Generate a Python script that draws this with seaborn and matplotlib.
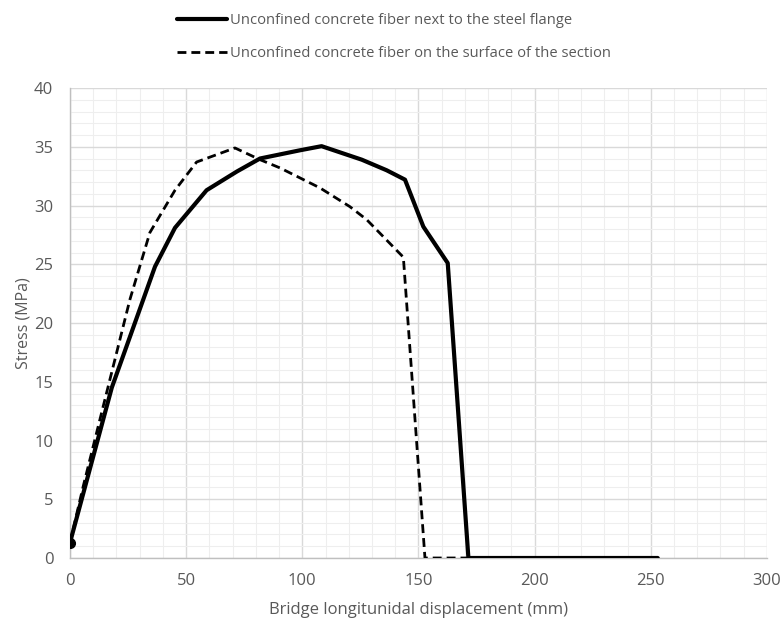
import matplotlib
matplotlib.use("Agg")
import matplotlib.pyplot as plt
from matplotlib.ticker import MultipleLocator
from matplotlib.lines import Line2D
import seaborn as sns
import pandas as pd

# Stress-displacement responses of the two unconfined concrete fibers
disp_flange = [0.0, 18.0, 36.6, 45.2, 58.8, 71.9, 81.8, 99.0, 108.3, 125.6, 136.3, 144.2, 152.1, 162.6, 171.5, 253.0]
stress_flange = [1.3, 14.5, 24.8, 28.1, 31.3, 32.9, 34.0, 34.7, 35.05, 33.9, 33.0, 32.2, 28.2, 25.1, 0.0, 0.0]

disp_surface = [0.0, 5.7, 25.8, 34.4, 45.2, 54.5, 71.0, 81.8, 90.4, 107.6, 120.5, 127.7, 143.5, 152.8, 171.5]
stress_surface = [1.3, 6.1, 22.0, 27.7, 31.3, 33.7, 34.9, 33.9, 33.2, 31.5, 29.9, 28.8, 25.6, 0.0, 0.0]

label_flange = "Unconfined concrete fiber next to the steel flange"
label_surface = "Unconfined concrete fiber on the surface of the section"

x_label = "Bridge longitunidal displacement (mm)"
y_label = "Stress (MPa)"

df_flange = pd.DataFrame({"disp": disp_flange, "stress": stress_flange})
df_surface = pd.DataFrame({"disp": disp_surface, "stress": stress_surface})

sns.set_theme(style="white")
plt.rcParams["font.family"] = ["Open Sans", "DejaVu Sans"]
text_color = "#595959"
axis_color = "#bfbfbf"

fig = plt.figure(figsize=(7.81, 6.22), dpi=100)
ax = fig.add_axes([0.0896, 0.1029, 0.8924, 0.7556])

sns.lineplot(data=df_surface, x="disp", y="stress", sort=False, ax=ax,
             color="black", linewidth=2.0, linestyle=(0, (3.2, 1.8)), zorder=3)
sns.lineplot(data=df_flange, x="disp", y="stress", sort=False, ax=ax,
             color="black", linewidth=3.0, zorder=4)
ax.plot([disp_flange[0]], [stress_flange[0]], "o", color="black", markersize=7,
        zorder=5, clip_on=True)

ax.set_xlim(0, 300)
ax.set_ylim(0, 40)
ax.xaxis.set_major_locator(MultipleLocator(50))
ax.xaxis.set_minor_locator(MultipleLocator(10))
ax.yaxis.set_major_locator(MultipleLocator(5))
ax.yaxis.set_minor_locator(MultipleLocator(1))
ax.grid(which="major", color="#d9d9d9", linewidth=1.0, zorder=0)
ax.grid(which="minor", color="#eeeeee", linewidth=0.8, zorder=0)
ax.set_axisbelow(True)

for side in ["top", "right"]:
    ax.spines[side].set_visible(False)
for side in ["left", "bottom"]:
    ax.spines[side].set_color(axis_color)
    ax.spines[side].set_linewidth(1.0)

ax.tick_params(axis="y", which="major", labelsize=12, colors=axis_color,
               labelcolor=text_color, direction="out", length=4, width=1, pad=8)
ax.tick_params(axis="x", which="major", labelsize=12, colors=axis_color,
               labelcolor=text_color, direction="out", length=4, width=1, pad=7)
ax.tick_params(axis="both", which="minor", length=0)

ax.set_xlabel(x_label, fontsize=12, color=text_color, labelpad=9)
ax.set_ylabel(y_label, fontsize=11.5, color=text_color, labelpad=2)

handles = [
    Line2D([], [], color="black", linewidth=3.0),
    Line2D([], [], color="black", linewidth=2.0, linestyle=(0, (3.2, 1.8))),
]
leg = fig.legend(handles, [label_flange, label_surface], loc="upper left",
                 bbox_to_anchor=(0.21, 1.0), frameon=False, fontsize=10.6,
                 handlelength=3.4, handletextpad=0.15, labelspacing=1.2,
                 labelcolor=text_color)

fig.savefig("out.png", dpi=100)
